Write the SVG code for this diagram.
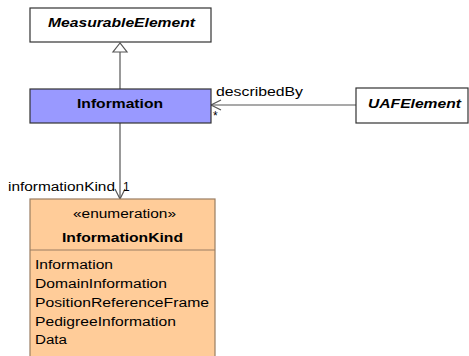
<svg xmlns="http://www.w3.org/2000/svg" width="469" height="356" viewBox="0 0 469 356">
<style>
text{font-family:"Liberation Sans",Arial,sans-serif;fill:#000}
.n{font-size:12px}
.b{font-size:13px;font-weight:bold}
.bi{font-size:13px;font-weight:bold;font-style:italic}
.box{fill:#fff;stroke:#333;stroke-width:1.2}
.ln{stroke:#555;stroke-width:1.2;fill:none}
</style>
<rect width="469" height="356" fill="#fff"/>
<g id="connectors">
<line class="ln" x1="120" y1="52" x2="120" y2="89"/>
<polygon points="120,43 113,52 127,52" fill="#fff" stroke="#555" stroke-width="1.2"/>
<line class="ln" x1="211" y1="105" x2="356" y2="105"/>
<polyline class="ln" points="221,100 211,105 221,110"/>
<line class="ln" x1="120" y1="123" x2="120" y2="199"/>
<polyline class="ln" points="115,189 120,199 125,189"/>
<text class="n" x="216" y="96" textLength="87" lengthAdjust="spacingAndGlyphs">describedBy</text>
<text class="n" x="213" y="120">*</text>
<text class="n" x="8" y="191" textLength="107" lengthAdjust="spacingAndGlyphs">informationKind</text>
<text class="n" x="123" y="191">1</text>
</g>
<g id="MeasurableElement">
<rect class="box" x="30" y="8" width="181" height="34"/>
<text class="bi" x="48" y="27" textLength="147" lengthAdjust="spacingAndGlyphs">MeasurableElement</text>
</g>
<g id="Information">
<rect x="30" y="89" width="181" height="34" fill="#9999ff" stroke="#333" stroke-width="1.2"/>
<text class="b" x="77" y="108" textLength="86" lengthAdjust="spacingAndGlyphs">Information</text>
</g>
<g id="UAFElement">
<rect class="box" x="356" y="88" width="112" height="35"/>
<text class="bi" x="368" y="108" textLength="93" lengthAdjust="spacingAndGlyphs">UAFElement</text>
</g>
<g id="InformationKind">
<rect x="30" y="199" width="185" height="160" fill="#ffcc99" stroke="#9a7d62" stroke-width="1.2"/>
<line x1="30" y1="250" x2="215" y2="250" stroke="#9a7d62" stroke-width="1"/>
<text class="n" x="73" y="218" textLength="103" lengthAdjust="spacingAndGlyphs">«enumeration»</text>
<text class="b" x="62" y="242" textLength="121" lengthAdjust="spacingAndGlyphs">InformationKind</text>
<text class="n" x="35" y="269" textLength="78" lengthAdjust="spacingAndGlyphs">Information</text>
<text class="n" x="35" y="288" textLength="132" lengthAdjust="spacingAndGlyphs">DomainInformation</text>
<text class="n" x="35" y="307" textLength="174" lengthAdjust="spacingAndGlyphs">PositionReferenceFrame</text>
<text class="n" x="35" y="326" textLength="141" lengthAdjust="spacingAndGlyphs">PedigreeInformation</text>
<text class="n" x="35" y="344" textLength="32" lengthAdjust="spacingAndGlyphs">Data</text>
</g>
</svg>
